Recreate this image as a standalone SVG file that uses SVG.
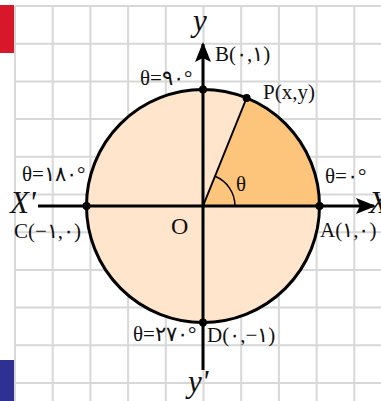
<svg xmlns="http://www.w3.org/2000/svg" width="381" height="401" viewBox="0 0 381 401">
<style>
.grid{stroke:#d8d8d8;stroke-width:2;fill:none}
.ax{stroke:#000;stroke-width:3;fill:none}
.lbl{font-family:"Liberation Serif","DejaVu Serif",serif;font-size:21px;fill:#111}
.math{font-family:"Liberation Serif","DejaVu Serif",serif;font-style:italic;font-size:31px;fill:#111}
.dot{fill:#000}
</style>
<defs>
<marker id="arr" viewBox="0 0 20 16" refX="18" refY="8" markerWidth="20" markerHeight="16" markerUnits="userSpaceOnUse" orient="auto">
<path d="M0,0 L20,8 L0,16 L4,8 Z" fill="#000"/>
</marker>
</defs>
<rect width="381" height="401" fill="#fff"/>
<g id="grid">
<path class="grid" d="M15,6V401M52.7,6V401M90.4,6V401M128.1,6V401M165.8,6V401M203.5,6V401M241.2,6V401M278.9,6V401M316.6,6V401M354.3,6V401M15,6H381M15,43.7H381M15,81.4H381M15,119.1H381M15,156.8H381M15,194.5H381M15,232.2H381M15,269.9H381M15,307.6H381M15,345.3H381M15,383H381"/>
</g>
<rect x="0" y="5" width="14" height="48" fill="#d7182a"/>
<rect x="0" y="360" width="14" height="41" fill="#2e3192"/>
<g id="circle">
<circle cx="203" cy="206" r="116.5" fill="#fee5cb"/>
<path d="M203,206 L319.5,206 A116.5,116.5 0 0 0 246.6,98 Z" fill="#fdc57b"/>
<circle cx="203" cy="206" r="116.5" fill="none" stroke="#000" stroke-width="3"/>
<path d="M203,206 L246.6,98" stroke="#000" stroke-width="2" fill="none"/>
<path d="M235,206 A32,32 0 0 0 215,176.3" stroke="#000" stroke-width="1.5" fill="none"/>
</g>
<g id="connectors">
<path class="ax" d="M38,206 H374" marker-end="url(#arr)"/>
<path class="ax" d="M203,370 V44" marker-end="url(#arr)"/>
</g>
<g id="points">
<circle class="dot" cx="319.5" cy="206" r="4"/>
<circle class="dot" cx="86.5" cy="206" r="4"/>
<circle class="dot" cx="203" cy="89.5" r="4"/>
<circle class="dot" cx="203" cy="322.5" r="4"/>
<circle class="dot" cx="246.6" cy="98" r="4"/>
</g>
<g id="labels">
<text class="math" x="193" y="31">y</text>
<text class="math" x="188" y="392">y'</text>
<text class="math" x="10" y="213">X'</text>
<text class="math" x="369" y="213">X</text>
<text class="lbl" x="215" y="61">B(۰,۱)</text>
<text class="lbl" x="263" y="99">P(x,y)</text>
<text class="lbl" x="140" y="85">θ=۹۰°</text>
<text class="lbl" x="22" y="181">θ=۱۸۰°</text>
<text class="lbl" x="14" y="238">C(−۱,۰)</text>
<text class="lbl" x="171" y="234" style="font-size:24px">O</text>
<text class="lbl" x="325" y="183">θ=۰°</text>
<text class="lbl" x="320" y="237">A(۱,۰)</text>
<text class="lbl" x="133" y="341">θ=۲۷۰°</text>
<text class="lbl" x="207" y="342">D(۰,−۱)</text>
<text class="lbl" x="236" y="191">θ</text>
</g>
</svg>
